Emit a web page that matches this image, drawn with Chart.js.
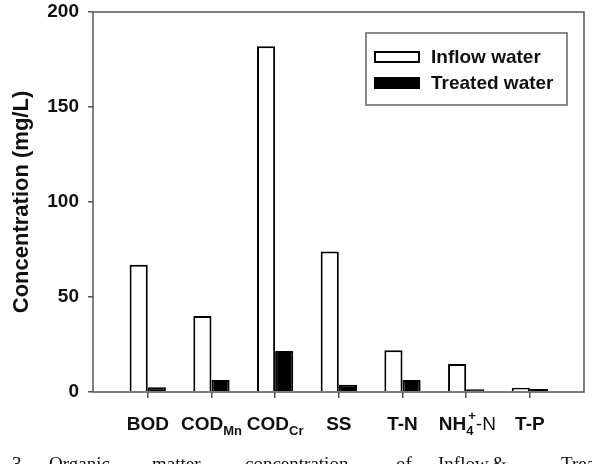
<!DOCTYPE html>
<html>
<head>
<meta charset="utf-8">
<script src="https://cdn.jsdelivr.net/npm/chart.js@4.4.0/dist/chart.umd.min.js"></script>
<style>
body{margin:0;background:#fff;overflow:hidden;}
#wrap{position:relative;width:592px;height:464px;overflow:hidden;}
#caption span{position:absolute;top:454px;font:19px "Liberation Serif",serif;line-height:1;color:#111;white-space:nowrap;}
</style>
</head>
<body>
<div id="wrap">
<canvas id="myChart" width="592" height="464"></canvas>
<div id="caption">
<span style="left:12px">3.</span>
<span style="left:49px">Organic</span>
<span style="left:152px">matter</span>
<span style="left:245px">concentration</span>
<span style="left:396px">of</span>
<span style="left:438px">Inflow</span>
<span style="left:492px">&amp;</span>
<span style="left:561px">Treated</span>
</div>
</div>
<script>
// _x = subscript, ^x = superscript
const categories = ['BOD', 'COD_Mn', 'COD_Cr', 'SS', 'T-N', 'NH_4^+-N', 'T-P'];
const seriesNames = ['Inflow water', 'Treated water'];
const inflow = [67, 40, 182, 74, 22, 14.7, 2.3];
const treated = [2.5, 6.3, 21.6, 3.8, 6.3, 1.4, 1.6];
const yTicks = [0, 50, 100, 150, 200];

const fontFam = '"Liberation Sans", Arial, sans-serif';

function toPoints(arr){
    return arr.map((v, i) => ({x: i, y: v}));
}

// box round the plot area
const framePlugin = {
    id: 'frame',
    afterDraw(chart){
        const c = chart.ctx;
        const a = chart.chartArea;
        c.save();
        c.strokeStyle = '#555';
        c.lineWidth = 1.5;
        c.strokeRect(a.left, a.top, a.right - a.left, a.bottom - a.top);
        c.restore();
    }
};

// category labels with sub/superscripts
const labelPlugin = {
    id: 'richLabels',
    afterDraw(chart){
        const c = chart.ctx;
        const xs = chart.scales.x;
        const base = chart.chartArea.bottom + 38;
        c.save();
        c.fillStyle = '#111';
        c.textBaseline = 'alphabetic';
        categories.forEach((lab, i) => {
            const parts = lab.split(/(_[A-Za-z0-9]+|\^[+\-])/).filter(p => p !== '');
            let afterSup = false;
            const segs = parts.map(p => {
                let s;
                if (p[0] === '_') s = {t: p.slice(1), font: 'bold 13px ' + fontFam, dy: 5};
                else if (p[0] === '^') { s = {t: p.slice(1), font: 'bold 13px ' + fontFam, dy: -10}; afterSup = true; }
                else s = {t: p, font: (afterSup ? '' : 'bold ') + '19px ' + fontFam, dy: 0};
                c.font = s.font;
                s.w = c.measureText(s.t).width;
                return s;
            });
            // superscript sits over the subscript
            let total = 0;
            segs.forEach((s, k) => {
                if (k > 0 && segs[k-1].dy > 0 && s.dy < 0) return;
                total += s.w;
            });
            let x = xs.getPixelForValue(i) - total / 2;
            let prevX = x;
            segs.forEach((s, k) => {
                c.font = s.font;
                if (k > 0 && segs[k-1].dy > 0 && s.dy < 0) {
                    c.fillText(s.t, prevX + 2, base + s.dy);
                    x = Math.max(x, prevX + s.w + 2);
                    return;
                }
                c.fillText(s.t, x, base + s.dy);
                prevX = x;
                x += s.w;
            });
        });
        c.restore();
    }
};

const legendPlugin = {
    id: 'boxLegend',
    afterDraw(chart){
        const c = chart.ctx;
        const a = chart.chartArea;
        const bx = a.right - 218, by = a.top + 21;
        c.save();
        c.strokeStyle = '#666';
        c.lineWidth = 1.5;
        c.strokeRect(bx, by, 201, 72);
        chart.data.datasets.forEach((ds, i) => {
            const sy = by + 18 + i * 26;
            c.fillStyle = ds.backgroundColor;
            c.fillRect(bx + 8, sy, 46, 12);
            c.strokeStyle = ds.borderColor;
            c.lineWidth = 2;
            c.strokeRect(bx + 9, sy + 1, 44, 10);
            c.fillStyle = '#111';
            c.font = 'bold 19px ' + fontFam;
            c.textBaseline = 'middle';
            c.fillText(ds.label, bx + 65, sy + 7);
        });
        c.restore();
    }
};

const ctx = document.getElementById('myChart');
const chart = new Chart(ctx, {
    type: 'bar',
    data: {
        datasets: [{
            label: seriesNames[0],
            data: toPoints(inflow),
            backgroundColor: '#fff',
            borderColor: '#000',
            borderWidth: 2,
            barPercentage: 1,
            categoryPercentage: 0.57
        }, {
            label: seriesNames[1],
            data: toPoints(treated),
            backgroundColor: '#000',
            borderColor: '#000',
            borderWidth: 2,
            barPercentage: 1,
            categoryPercentage: 0.57
        }]
    },
    options: {
        responsive: false,
        animation: false,
        layout: {padding: {top: 12, right: 8, left: 0, bottom: 0}},
        plugins: {legend: {display: false}, tooltip: {enabled: false}},
        scales: {
            x: {
                type: 'linear',
                min: -0.86,
                max: 6.85,
                offset: false,
                border: {display: false},
                grid: {offset: false, drawOnChartArea: false, tickLength: 6, color: '#555', lineWidth: 1.5},
                ticks: {callback: () => '', font: {size: 19}},
                afterBuildTicks: s => { s.ticks = categories.map((c, i) => ({value: i})); },
                afterFit: s => { s.height = 72; s.paddingLeft = 0; s.paddingRight = 0; }
            },
            y: {
                min: 0,
                max: 200,
                border: {display: false},
                grid: {drawOnChartArea: false, tickLength: 5, color: '#555', lineWidth: 1.5},
                ticks: {color: '#111', padding: 9, font: {family: fontFam, size: 19, weight: 'bold'}},
                afterBuildTicks: s => { s.ticks = yTicks.map(v => ({value: v})); },
                title: {
                    display: true,
                    text: 'Concentration (mg/L)',
                    color: '#111',
                    font: {family: fontFam, size: 22, weight: 'bold'},
                    padding: {top: 9, bottom: 0}
                },
                afterFit: s => { s.width = 93; s.paddingTop = 0; s.paddingBottom = 0; }
            }
        }
    },
    plugins: [framePlugin, labelPlugin, legendPlugin]
});
</script>
</body>
</html>
